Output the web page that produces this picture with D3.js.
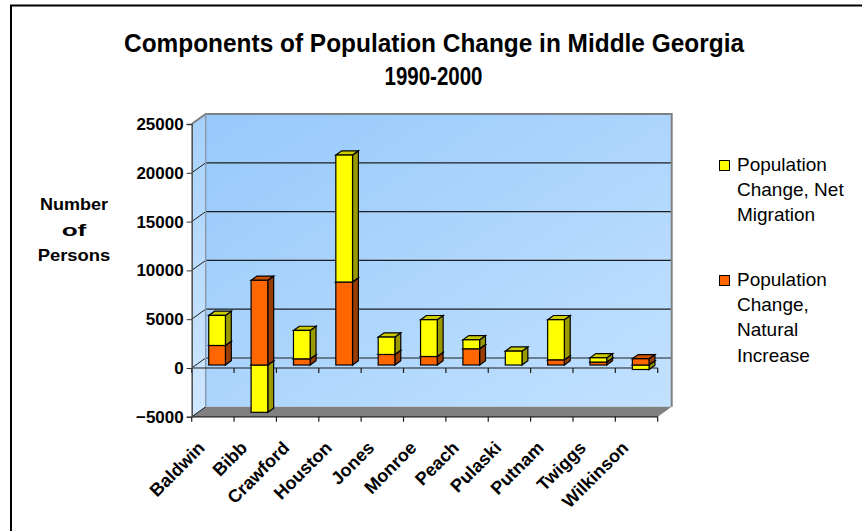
<!DOCTYPE html>
<html>
<head>
<meta charset="utf-8">
<script src="https://cdn.jsdelivr.net/npm/d3@7"></script>
<style>
  html, body { margin: 0; padding: 0; background: #fff; }
  svg { display: block; }
  text { font-family: "Liberation Sans", Arial, sans-serif; fill: #000; }
</style>
</head>
<body>
<script>
// Components of population change, Middle Georgia counties, 1990-2000
const counties = ["Baldwin", "Bibb", "Crawford", "Houston", "Jones", "Monroe",
                  "Peach", "Pulaski", "Putnam", "Twiggs", "Wilkinson"];
const naturalIncrease = [2000, 8680, 630, 8500, 1080, 870, 1660, 0, 530, 300, 640];
const netMigration    = [3080, -4850, 2910, 13010, 1780, 3770, 920, 1420, 4110, 440, -460];
const yTicks = [-5000, 0, 5000, 10000, 15000, 20000, 25000];
const seriesKeys = ["natural", "migration"];
const legendItems = [
  { key: "migration", lines: ["Population", "Change, Net", "Migration"] },
  { key: "natural",   lines: ["Population", "Change,", "Natural", "Increase"] }
];
const titleLines = ["Components of Population Change in Middle Georgia", "1990-2000"];
const yTitleLines = ["Number", "of", "Persons"];

const W = 862, H = 531;
const svg = d3.select("body").append("svg").attr("width", W).attr("height", H);

// colours for each series: front, top and side faces
const faces = {
  natural:   { front: "#FF6600", top: "#CC5200", side: "#993D00" },
  migration: { front: "#FFFF00", top: "#CCCC00", side: "#999900" }
};

// table for the stack layout
const table = counties.map((c, i) => ({ county: c, natural: naturalIncrease[i], migration: netMigration[i] }));
const stacked = d3.stack().keys(seriesKeys).offset(d3.stackOffsetDiverging)(table);

// scales on the front plane of the 3-D box
const x = d3.scaleBand().domain(counties).range([191.7, 657.7]);
const y = d3.scaleLinear().domain([-5000, 25000]).range([416.8, 124]);
const depth = { x: 14, y: -10 };          // offset from front plane to back wall
const f0 = 0.30, f1 = 0.72;               // depth fractions of the bar faces
const bw = x.bandwidth() * 0.394;

const defs = svg.append("defs");
const gBack = defs.append("linearGradient").attr("id", "backWall")
  .attr("x1", 0).attr("y1", 0).attr("x2", 1).attr("y2", 1);
gBack.append("stop").attr("offset", "0%").attr("stop-color", "#97C9FB");
gBack.append("stop").attr("offset", "100%").attr("stop-color", "#C2E1FF");
const gSide = defs.append("linearGradient").attr("id", "sideWall")
  .attr("x1", 0).attr("y1", 0).attr("x2", 0).attr("y2", 1);
gSide.append("stop").attr("offset", "0%").attr("stop-color", "#A6D1FC");
gSide.append("stop").attr("offset", "100%").attr("stop-color", "#CFE7FF");

// outer chart border
svg.append("rect").attr("x", 11).attr("y", 5.5).attr("width", 1000).attr("height", 800)
  .attr("fill", "#fff").attr("stroke", "#000").attr("stroke-width", 2);

const x0 = x.range()[0], x1 = x.range()[1];
const yMin = y(-5000), yMax = y(25000);
const pts = a => a.map(p => p.join(",")).join(" ");

// back wall
svg.append("polygon")
  .attr("points", pts([[x0 + depth.x, yMax + depth.y], [x1 + depth.x, yMax + depth.y],
                       [x1 + depth.x, yMin + depth.y], [x0 + depth.x, yMin + depth.y]]))
  .attr("fill", "url(#backWall)");
// left side wall
svg.append("polygon")
  .attr("points", pts([[x0, yMax], [x0 + depth.x, yMax + depth.y],
                       [x0 + depth.x, yMin + depth.y], [x0, yMin]]))
  .attr("fill", "url(#sideWall)");
// floor
svg.append("polygon")
  .attr("points", pts([[x0, yMin], [x0 + depth.x, yMin + depth.y],
                       [x1 + depth.x, yMin + depth.y], [x1, yMin]]))
  .attr("fill", "#808080");

// gridlines on the back wall and their continuation on the side wall
const grid = svg.append("g");
yTicks.filter(v => v > -5000 && v < 25000).forEach(v => {
  grid.append("line")
    .attr("x1", x0 + depth.x).attr("x2", x1 + depth.x)
    .attr("y1", y(v) + depth.y).attr("y2", y(v) + depth.y)
    .attr("stroke", "#1e1e1e").attr("stroke-width", 1.2);
});
yTicks.forEach(v => {
  grid.append("line")
    .attr("x1", x0).attr("y1", y(v))
    .attr("x2", x0 + depth.x).attr("y2", y(v) + depth.y)
    .attr("stroke", "#1e1e1e").attr("stroke-width", 1);
});

// wall edges
svg.append("path")
  .attr("d", `M${x0},${yMax}L${x0 + depth.x},${yMax + depth.y}H${x1 + depth.x}V${yMin + depth.y}`)
  .attr("fill", "none").attr("stroke", "#808080").attr("stroke-width", 2);
svg.append("line")
  .attr("x1", x0 + depth.x).attr("x2", x0 + depth.x)
  .attr("y1", yMax + depth.y).attr("y2", yMin + depth.y)
  .attr("stroke", "#8a9bb0").attr("stroke-width", 1.5);

// category axis at zero and along the floor edge
const bounds = counties.map(c => x(c)).concat([x1]);
[0, -5000].forEach(v => {
  const yy = y(v);
  svg.append("line").attr("x1", x0).attr("x2", x1).attr("y1", yy).attr("y2", yy)
    .attr("stroke", "#1e1e1e").attr("stroke-width", 1.2);
  bounds.forEach(bx => {
    svg.append("line").attr("x1", bx).attr("x2", bx).attr("y1", yy).attr("y2", yy + 5)
      .attr("stroke", "#1e1e1e").attr("stroke-width", 1.2);
  });
});

// bars
const dBar = { x: (f1 - f0) * depth.x, y: (f1 - f0) * depth.y };
const barG = svg.append("g");
counties.forEach((c, i) => {
  const segs = stacked.map(s => ({ key: s.key, v0: s[i][0], v1: s[i][1] }))
    .filter(s => s.v1 !== s.v0)
    .sort((a, b) => a.v0 - b.v0);
  const L = x(c) + (x.bandwidth() - bw) / 2 + depth.x * f0;
  segs.forEach(s => {
    const top = y(s.v1) + depth.y * f0, bot = y(s.v0) + depth.y * f0;
    const col = faces[s.key];
    const g = barG.append("g").attr("stroke", "#000").attr("stroke-width", 1.2)
      .attr("stroke-linejoin", "miter");
    g.append("polygon").attr("fill", col.side)
      .attr("points", pts([[L + bw, top], [L + bw + dBar.x, top + dBar.y],
                           [L + bw + dBar.x, bot + dBar.y], [L + bw, bot]]));
    g.append("polygon").attr("fill", col.top)
      .attr("points", pts([[L, top], [L + bw, top], [L + bw + dBar.x, top + dBar.y], [L + dBar.x, top + dBar.y]]));
    g.append("rect").attr("fill", col.front)
      .attr("x", L).attr("y", top).attr("width", bw).attr("height", bot - top);
  });
});

// value axis
const yAxis = svg.append("g").attr("transform", `translate(${x0},0)`)
  .call(d3.axisLeft(y).tickValues(yTicks).tickFormat(d3.format("d")).tickSize(5).tickPadding(3));
yAxis.select(".domain").attr("stroke", "#4d4d4d").attr("stroke-width", 1.5);
yAxis.selectAll(".tick line").attr("stroke", "#333");
yAxis.selectAll(".tick text")
  .style("font-family", '"Liberation Sans", Arial, sans-serif')
  .style("font-size", "17px").style("font-weight", "bold").attr("fill", "#000");

// category labels
const xLab = svg.append("g");
counties.forEach(c => {
  const cx = x(c) + x.bandwidth() / 2 - 7, cy = 449;
  xLab.append("text")
    .attr("transform", `translate(${cx},${cy}) rotate(-45)`)
    .attr("text-anchor", "end")
    .style("font-size", "18px").style("font-weight", "bold")
    .text(c);
});

// title
const title = svg.append("g").style("font-weight", "bold").style("font-size", "25px");
title.append("text").attr("x", 434).attr("y", 52).attr("text-anchor", "middle")
  .attr("textLength", 620).attr("lengthAdjust", "spacingAndGlyphs").text(titleLines[0]);
title.append("text").attr("x", 433.5).attr("y", 85).attr("text-anchor", "middle")
  .attr("textLength", 98).attr("lengthAdjust", "spacingAndGlyphs").text(titleLines[1]);

// value axis title
const yTitleWidths = [68, 24.7, 72.7];
svg.append("g").style("font-weight", "bold").style("font-size", "17px")
  .selectAll("text").data(yTitleLines).join("text")
  .attr("x", 74).attr("y", (d, i) => 210 + i * 25.7)
  .attr("text-anchor", "middle")
  .attr("textLength", (d, i) => yTitleWidths[i]).attr("lengthAdjust", "spacingAndGlyphs")
  .text(d => d);

// legend
const legend = svg.append("g").style("font-size", "19px");
const legendTops = [160.5, 275.5];
legendItems.forEach((item, k) => {
  const t = legendTops[k];
  legend.append("rect").attr("x", 719.5).attr("y", t).attr("width", 10).attr("height", 10)
    .attr("fill", faces[item.key].front).attr("stroke", "#000").attr("stroke-width", 1);
  item.lines.forEach((ln, j) => {
    legend.append("text").attr("x", 737).attr("y", t + 10 + j * 25.4).text(ln);
  });
});
</script>
</body>
</html>
